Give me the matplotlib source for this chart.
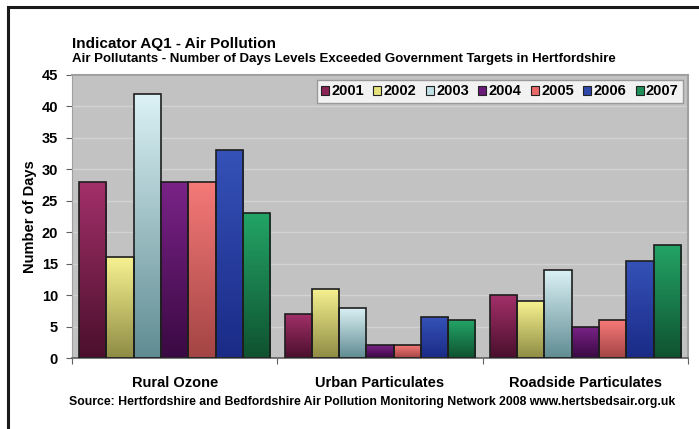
import numpy as np
import matplotlib
matplotlib.use("Agg")
import matplotlib.pyplot as plt
from matplotlib.colors import LinearSegmentedColormap, to_rgb
from matplotlib.patches import Rectangle, Patch

plt.rcParams['font.family'] = ['Liberation Sans Narrow', 'Liberation Sans', 'DejaVu Sans']
plt.rcParams['font.weight'] = 'bold'

categories = ["Rural Ozone", "Urban Particulates", "Roadside Particulates"]
years = ["2001", "2002", "2003", "2004", "2005", "2006", "2007"]
days_2001 = [28, 7, 10]
days_2002 = [16, 11, 9]
days_2003 = [42, 8, 14]
days_2004 = [28, 2, 5]
days_2005 = [28, 2, 6]
days_2006 = [33, 6.5, 15.5]
days_2007 = [23, 6, 18]
series = [days_2001, days_2002, days_2003, days_2004, days_2005, days_2006, days_2007]

# (top colour, bottom colour) for the vertical shading of each year's bars
shades = [
    ("#a3306a", "#4a0f2c"),
    ("#f7f290", "#8e8c44"),
    ("#dcf2f6", "#5f8c92"),
    ("#7a2388", "#3a0942"),
    ("#f57a78", "#a34444"),
    ("#3552b8", "#1a2a86"),
    ("#23a466", "#0f5230"),
]
legend_colors = ["#8a2456", "#e6e27c", "#c0e0e6", "#6a1a78", "#e86a68", "#2e48aa", "#1e9058"]

fig = plt.figure(figsize=(6.99, 4.29), dpi=100)
fig.patch.set_facecolor("white")

# black frame around the chart
fig.add_artist(Rectangle((8 / 699, -0.1), 1.2, 1 - 7 / 429 + 0.1,
                         transform=fig.transFigure, fill=False,
                         edgecolor="#1a1a1a", linewidth=2.2))

ax = fig.add_axes([72 / 699, (429 - 358) / 429, (688 - 72) / 699, (358 - 75) / 429])
ax.set_facecolor("#c2c2c2")
ax.set_yticks(np.arange(0, 46, 5))
ax.yaxis.grid(True, color="#d2d2d2", linewidth=1.0)
ax.set_axisbelow(True)

n = len(series)
group_w = 0.93
w = group_w / n
x = np.arange(len(categories))

grad = np.linspace(0, 1, 256).reshape(-1, 1)
for i, (vals, (top, bot)) in enumerate(zip(series, shades)):
    cmap = LinearSegmentedColormap.from_list(f"s{i}", [to_rgb(bot), to_rgb(top)])
    pos = x - group_w / 2 + w * (i + 0.5)
    bars = ax.bar(pos, vals, width=w, facecolor="none", edgecolor="#1e1e1e",
                  linewidth=1.2, zorder=3)
    for b in bars:
        bx, by = b.get_x(), b.get_y()
        bw, bh = b.get_width(), b.get_height()
        im = ax.imshow(grad, cmap=cmap, origin="lower", aspect="auto",
                       extent=(bx, bx + bw, by, by + bh), zorder=2,
                       interpolation="bilinear")
        im.set_clip_path(b)
ax.set_xlim(-0.5, len(categories) - 0.5)
ax.set_ylim(0, 45)

for s in ["top", "right"]:
    ax.spines[s].set_color("#a0a0a0")
    ax.spines[s].set_linewidth(1.5)
ax.spines["left"].set_color("#a0a0a0")
ax.spines["bottom"].set_color("#606060")
ax.spines["bottom"].set_linewidth(1.2)

ax.tick_params(axis="y", direction="out", length=4, color="#606060",
               labelsize=10.5, pad=6)
for t in ax.get_yticklabels():
    t.set_fontweight("bold")
ax.set_xticks(np.arange(-0.5, len(categories), 1.0))
ax.set_xticklabels([])
ax.tick_params(axis="x", direction="out", length=4, color="#606060")
ax.set_xticks(x, minor=True)
ax.set_xticklabels(categories, minor=True, fontsize=10.5, fontweight="bold")
ax.tick_params(axis="x", which="minor", length=0, pad=13)

ax.set_ylabel("Number of Days", fontsize=10.5, fontweight="bold", labelpad=3)

handles = [Patch(facecolor=c, edgecolor="#222222", linewidth=0.8) for c in legend_colors]
leg = ax.legend(handles, years, ncol=7, loc="upper right",
                bbox_to_anchor=(0.992, 0.982), borderaxespad=0.0,
                frameon=True, fancybox=False,
                handlelength=0.55, handleheight=0.55,
                handletextpad=0.15, columnspacing=0.65, borderpad=0.3,
                prop={"weight": "bold", "size": 10.5})
leg.get_frame().set_edgecolor("#8a8a8a")
leg.get_frame().set_linewidth(1.0)

fig.text(72 / 699, 1 - 44 / 429, "Indicator AQ1 - Air Pollution",
         fontsize=11, fontweight="bold", va="center", ha="left")
fig.text(72 / 699, 1 - 59 / 429,
         "Air Pollutants - Number of Days Levels Exceeded Government Targets in Hertfordshire",
         fontsize=9.5, fontweight="bold", va="center", ha="left")
fig.text(372 / 699, 1 - 402 / 429,
         "Source: Hertfordshire and Bedfordshire Air Pollution Monitoring Network 2008 www.hertsbedsair.org.uk",
         fontsize=8.85, fontweight="bold", va="center", ha="center")

fig.savefig("out.png", dpi=100)
